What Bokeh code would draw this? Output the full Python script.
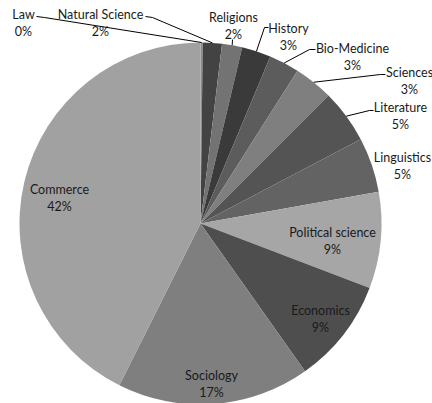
import math
from bokeh.plotting import figure
from bokeh.models import Range1d, ColumnDataSource
from bokeh.core.properties import value
from bokeh.embed import file_html
from bokeh.resources import INLINE

# ---- data (clockwise from 12 o'clock) ----
categories = ["Law", "Natural Science", "Religions", "History", "Bio-Medicine",
              "Sciences", "Literature", "Linguistics", "Political science",
              "Economics", "Sociology", "Commerce"]
values = [0.2, 1.7, 1.8, 2.6, 2.7, 3.5, 4.8, 4.9, 8.6, 9.4, 17.2, 42.6]
pct_labels = ["0%", "2%", "2%", "3%", "3%", "3%", "5%", "5%", "9%", "9%", "17%", "42%"]
colors = ["#8c8c8c", "#434343", "#737373", "#3a3a3a", "#5c5c5c", "#7f7f7f",
          "#545454", "#636363", "#a6a6a6", "#4e4e4e", "#7f7f7f", "#a1a1a1"]

# ---- layout (picture pixel coords: label centre x, first-line y) ----
label_pos = {
    "Law": (23, 14), "Natural Science": (100, 14), "Religions": (233, 17),
    "History": (288, 28), "Bio-Medicine": (352, 48), "Sciences": (409, 72),
    "Literature": (400, 107), "Linguistics": (402, 157),
    "Political science": (332, 232), "Economics": (320, 310),
    "Sociology": (211, 375), "Commerce": (59, 189),
}
# leader line elbow points (picture coords), from label side to the pie
leader_elbows = {
    "Law": [(36, 16), (44, 17)],
    "Natural Science": [(145, 16), (152, 17)],
    "Religions": [(232, 39)],
    "History": [(268, 27), (264, 27)],
    "Bio-Medicine": [(315, 49), (309, 49)],
    "Sciences": [(385, 74), (380, 74)],
    "Literature": [(373, 110), (369, 110)],
}

CX, CY, R = 200, 223, 181
W, H = 432, 403

def tx(px):
    return px - CX

def ty(py):
    return CY - py

p = figure(width=W, height=H, output_backend="svg", toolbar_location=None,
           x_range=Range1d(tx(0), tx(W)), y_range=Range1d(ty(H), ty(0)),
           min_border=0)
p.axis.visible = False
p.grid.visible = False
p.outline_line_color = None
p.background_fill_color = "white"

total = sum(values)
starts, ends, mids = [], [], []
c = 0.0
for v in values:
    c0 = c / total
    c += v
    c1 = c / total
    starts.append(math.pi / 2 - 2 * math.pi * c1)
    ends.append(math.pi / 2 - 2 * math.pi * c0)
    mids.append(2 * math.pi * (c0 + c1) / 2)

src = ColumnDataSource(dict(start=starts, end=ends, color=colors))
p.wedge(x=0, y=0, radius=R, start_angle="start", end_angle="end",
        fill_color="color", line_color=None, source=src)

# leader lines
xs, ys = [], []
for i, cat in enumerate(categories):
    if cat in leader_elbows:
        ax = R * math.sin(mids[i])
        ay = R * math.cos(mids[i])
        pts = [(tx(a), ty(b)) for a, b in leader_elbows[cat]] + [(ax, ay)]
        xs.append([q[0] for q in pts])
        ys.append([q[1] for q in pts])
p.multi_line(xs=xs, ys=ys, line_color="#000000", line_width=1)

# labels
lx, ly1, ly2, t1, t2 = [], [], [], [], []
for i, cat in enumerate(categories):
    px, py = label_pos[cat]
    lx.append(tx(px))
    ly1.append(ty(py))
    ly2.append(ty(py + 16.5))
    t1.append(cat)
    t2.append(pct_labels[i])

font = value("Lato")
p.text(x=lx, y=ly1, text=t1, text_font=font, text_font_size="12.5px",
       text_color="#1a1a1a", text_align="center", text_baseline="middle")
p.text(x=lx, y=ly2, text=t2, text_font=font, text_font_size="12.5px",
       text_color="#1a1a1a", text_align="center", text_baseline="middle")

open("out.html", "w").write(file_html(p, INLINE))
